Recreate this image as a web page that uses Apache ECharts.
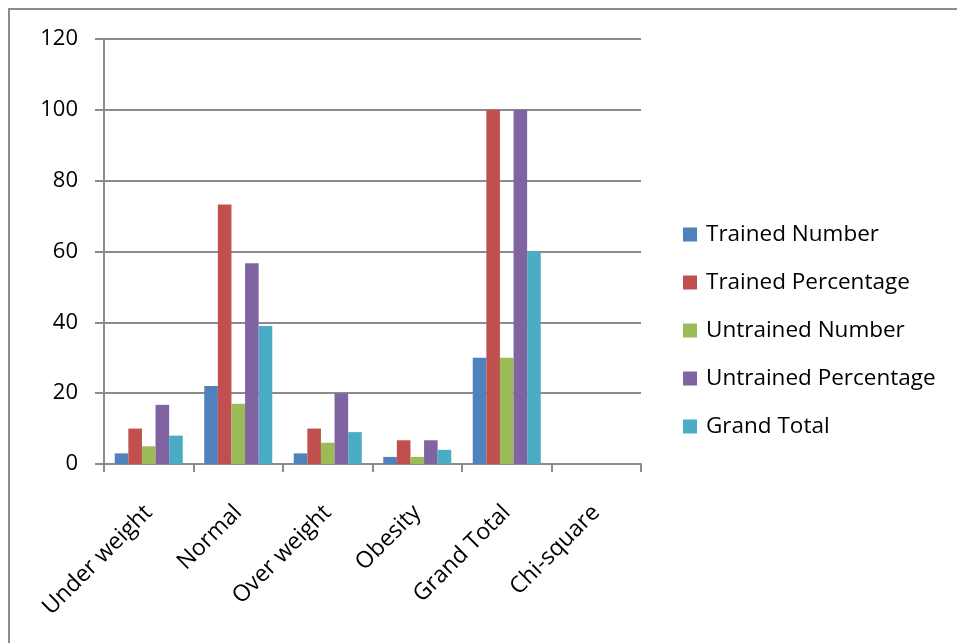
<!DOCTYPE html>
<html>
<head>
<meta charset="utf-8">
<script src="https://cdn.jsdelivr.net/npm/echarts@6/dist/echarts.min.js"></script>
<style>
  html, body { margin: 0; padding: 0; background: #fff; }
  #chart { width: 957px; height: 643px; }
</style>
</head>
<body>
<div id="chart"></div>
<script>
const categories = ['Under weight', 'Normal', 'Over weight', 'Obesity', 'Grand Total', 'Chi-square'];
const trainedNumber = [3, 22, 3, 2, 30, null];
const trainedPercentage = [10, 73.3, 10, 6.7, 100, null];
const untrainedNumber = [5, 17, 6, 2, 30, null];
const untrainedPercentage = [16.7, 56.7, 20, 6.7, 100, null];
const grandTotal = [8, 39, 9, 4, 60, null];
const seriesNames = ['Trained Number', 'Trained Percentage', 'Untrained Number', 'Untrained Percentage', 'Grand Total'];
const seriesColors = ['#4F81BD', '#C0504D', '#9BBB59', '#8064A2', '#4BACC6'];
const yTicks = { min: 0, max: 120, interval: 20 };

const FONT = 'Open Sans';
const values = [trainedNumber, trainedPercentage, untrainedNumber, untrainedPercentage, grandTotal];

const chart = echarts.init(document.getElementById('chart'), null, { renderer: 'canvas' });
chart.setOption({
  animation: false,
  backgroundColor: '#ffffff',
  graphic: [{
    type: 'rect',
    shape: { x: 9, y: 9, width: 1200, height: 900 },
    style: { fill: 'none', stroke: '#8c8c8c', lineWidth: 2 },
    silent: true
  }],
  grid: { left: 104, right: 316, top: 39, bottom: 179, containLabel: false },
  legend: {
    orient: 'vertical',
    left: 678,
    top: 218,
    itemWidth: 14,
    itemHeight: 14,
    itemGap: 25,
    icon: 'rect',
    textStyle: { fontFamily: FONT, fontSize: 22.5, color: '#000', padding: [0, 0, 0, 4] },
    data: seriesNames
  },
  xAxis: {
    type: 'category',
    data: categories,
    axisLine: { lineStyle: { color: '#8c8c8c', width: 2 } },
    axisTick: { show: true, length: 8, lineStyle: { color: '#8c8c8c', width: 2 } },
    axisLabel: { rotate: 45, fontFamily: FONT, fontSize: 23, color: '#000', margin: 45, interval: 0 },
    splitLine: { show: false }
  },
  yAxis: {
    type: 'value',
    min: yTicks.min,
    max: yTicks.max,
    interval: yTicks.interval,
    axisLine: { show: true, lineStyle: { color: '#8c8c8c', width: 2 } },
    axisTick: { show: true, length: 9, lineStyle: { color: '#8c8c8c', width: 2 } },
    axisLabel: { fontFamily: FONT, fontSize: 22, color: '#000', margin: 26 },
    splitLine: { show: true, lineStyle: { color: '#8c8c8c', width: 2 } }
  },
  series: seriesNames.map((name, i) => ({
    name,
    type: 'bar',
    data: values[i],
    itemStyle: { color: seriesColors[i] },
    barGap: '0%',
    barCategoryGap: '24%'
  }))
});
</script>
</body>
</html>
